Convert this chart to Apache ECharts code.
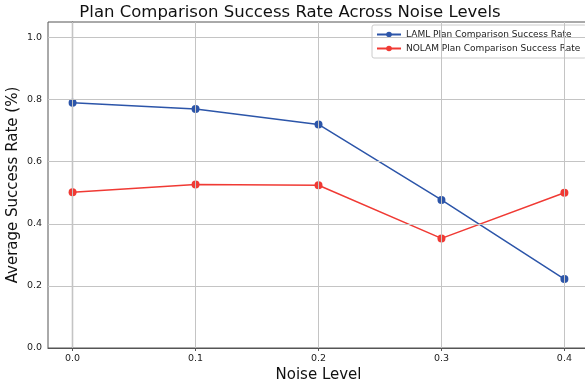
<!DOCTYPE html>
<html><head><meta charset="utf-8">
<script src="https://cdn.jsdelivr.net/npm/echarts@6/dist/echarts.min.js"></script>
<style>html,body{margin:0;padding:0;background:#fff}#c{width:585px;height:386px}</style>
</head><body><div id="c"></div>
<script>
var noise = [0.0, 0.1, 0.2, 0.3, 0.4];
var lamlRate = [0.79, 0.77, 0.72, 0.477, 0.222];
var nolamRate = [0.502, 0.527, 0.524, 0.353, 0.50];
var yTicks = [0.0, 0.2, 0.4, 0.6, 0.8, 1.0];

var chart = echarts.init(document.getElementById('c'));
var font = 'DejaVu Sans';
chart.setOption({
  animation: false,
  textStyle: {fontFamily: font},
  title: {
    text: 'Plan Comparison Success Rate Across Noise Levels',
    left: 285, textAlign: 'center', top: -1,
    textStyle: {fontFamily: font, fontSize: 16.5, fontWeight: 'normal', color: '#111'}
  },
  legend: {
    orient: 'vertical', left: 372, top: 25,
    itemWidth: 24, itemHeight: 7, itemGap: 5,
    padding: [5, 6, 5, 4],
    backgroundColor: '#fff', borderColor: '#ccc', borderWidth: 1, borderRadius: 2,
    textStyle: {fontFamily: font, fontSize: 9, color: '#222'},
    data: ['LAML Plan Comparison Success Rate', 'NOLAM Plan Comparison Success Rate']
  },
  grid: {left: 48, top: 22, right: -4, bottom: 38, outerBoundsMode: 'none', containLabel: false, show: true, borderColor: '#555', borderWidth: 1},
  xAxis: {
    type: 'value', min: -0.02, max: 0.42, interval: 0.1,
    name: 'Noise Level', nameLocation: 'middle', nameGap: 20, nameMoveOverlap: false,
    nameTextStyle: {fontFamily: font, fontSize: 15, color: '#111'},
    axisLine: {show: true, onZero: false, lineStyle: {color: '#555', width: 1.2}},
    axisTick: {show: true, length: 3, lineStyle: {color: '#555'}, customValues: noise},
    axisLabel: {customValues: noise, fontSize: 9.5, color: '#222', margin: 6, formatter: function(v){return v.toFixed(1);}},
    splitLine: {show: false}
  },
  yAxis: {
    type: 'value', min: 0, max: 1.05,
    name: 'Average Success Rate (%)', nameLocation: 'middle', nameGap: 27, nameMoveOverlap: false,
    nameTextStyle: {fontFamily: font, fontSize: 15, color: '#111'},
    axisLine: {show: true, lineStyle: {color: '#555', width: 1.2}},
    axisTick: {show: true, length: 3, lineStyle: {color: '#555'}, customValues: yTicks},
    axisLabel: {customValues: yTicks, fontSize: 9.5, color: '#222', margin: 6, formatter: function(v){return v.toFixed(1);}},
    splitLine: {show: false}
  },
  series: [
    {name: 'grid-x', type: 'line', silent: true, data: [], markLine: {silent: true, symbol: 'none', label: {show: false},
      lineStyle: {color: '#c4c4c4', type: 'solid', width: 1},
      data: noise.map(function(v){return {xAxis: v};}).concat(yTicks.slice(1).map(function(v){return {yAxis: v};}))}},
    {name: 'LAML Plan Comparison Success Rate', type: 'line',
      data: noise.map(function(x,i){return [x, lamlRate[i]];}),
      symbol: 'circle', symbolSize: 8, color: '#2c55a9', lineStyle: {width: 1.5, color: '#2c55a9'}, itemStyle: {color: '#2c55a9'}},
    {name: 'NOLAM Plan Comparison Success Rate', type: 'line',
      data: noise.map(function(x,i){return [x, nolamRate[i]];}),
      symbol: 'circle', symbolSize: 8, color: '#f03a34', lineStyle: {width: 1.5, color: '#f03a34'}, itemStyle: {color: '#f03a34'}}
  ]
});
</script></body></html>
